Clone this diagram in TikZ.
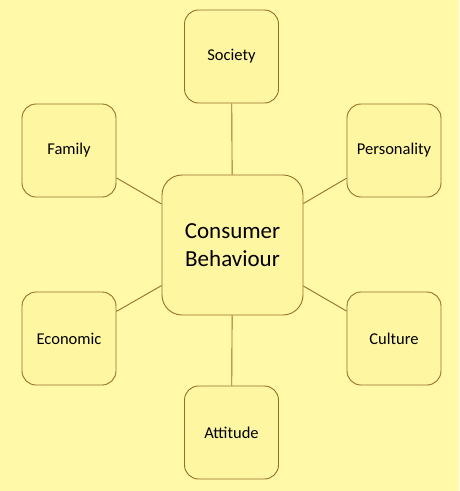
\documentclass[tikz,border=0pt]{standalone}
\usepackage{fontspec}
\setmainfont{Carlito}
\usetikzlibrary{positioning}
\definecolor{bgyellow}{RGB}{255,249,168}
\definecolor{boxfill}{RGB}{255,246,162}
\definecolor{boxline}{RGB}{150,110,40}

\begin{document}
\begin{tikzpicture}[
    x=1pt, y=-1pt,
    factor/.style={rectangle, draw=boxline, fill=boxfill, line width=0.9pt, minimum width=94pt, minimum height=93pt, align=center, rounded corners=14pt, font=\fontsize{16.5}{20}\selectfont},
    core/.style={factor, minimum width=141pt, minimum height=140pt, rounded corners=20pt, font=\fontsize{23}{28}\selectfont},
    link/.style={draw=boxline, line width=0.9pt}
]
\fill[bgyellow] (0,0) rectangle (459,491);
\useasboundingbox (0,0) rectangle (459,491);

% Centre and surrounding factors
\node[core] (cb) at (232.5,245) {Consumer\\Behaviour};

\node[factor] (society) at (231.5,56.5) {Society};
\node[factor] (family) at (69,150.5) {Family};
\node[factor] (personality) at (394,150.5) {Personality};
\node[factor] (economic) at (69,338.5) {Economic};
\node[factor] (culture) at (394,338.5) {Culture};
\node[factor] (attitude) at (231.5,432.5) {Attitude};

% Links
\foreach \f in {society, family, personality, economic, culture, attitude}
    \draw[link] (cb) -- (\f);

\end{tikzpicture}
\end{document}
